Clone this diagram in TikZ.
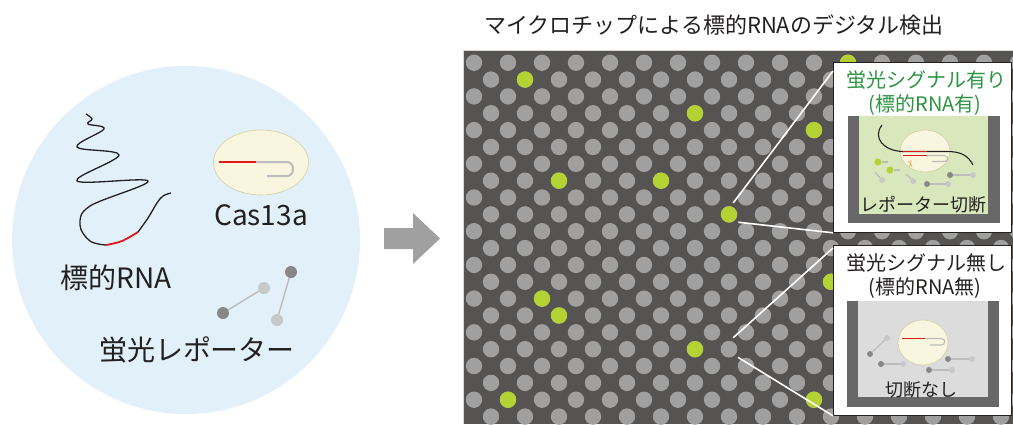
\documentclass[tikz,border=0pt]{standalone}
\usepackage{fontspec}
\setmainfont{Noto Sans CJK JP}
\newfontfamily\symfont{DejaVu Sans}
\definecolor{PoolBlue}{RGB}{226,240,250}
\definecolor{CasCream}{RGB}{248,246,222}
\definecolor{CasEdge}{RGB}{212,206,160}
\definecolor{ChipGray}{RGB}{85,84,82}
\definecolor{PitGray}{RGB}{160,160,160}
\definecolor{SignalGreen}{RGB}{180,210,52}
\definecolor{TitleGreen}{RGB}{44,148,66}
\definecolor{WallGray}{RGB}{104,104,104}
\definecolor{LitWell}{RGB}{217,231,188}
\definecolor{DimWell}{RGB}{220,220,220}
\definecolor{BeadDark}{RGB}{135,135,135}
\definecolor{BeadLight}{RGB}{200,200,200}
\definecolor{LinkGray}{RGB}{188,188,188}
\definecolor{CutOrange}{RGB}{228,150,40}
\definecolor{RnaRed}{RGB}{222,24,24}
\definecolor{ArrowGray}{RGB}{160,160,160}
\definecolor{Ink}{RGB}{35,32,32}
\usetikzlibrary{shapes.geometric, positioning}

\begin{document}
\begin{tikzpicture}[
            x=1pt, y=-1pt,
            label/.style={text=Ink, inner sep=0pt, font=\fontsize{28}{30}\selectfont},
            calltext/.style={text=Ink, inner sep=0pt, font=\fontsize{20}{22}\selectfont},
            welltext/.style={text=Ink, inner sep=0pt, font=\fontsize{18}{20}\selectfont},
            pit/.style={circle, fill=PitGray, minimum size=16.4pt, inner sep=0pt},
            spot/.style={pit, outer sep=4pt},
            casbody/.style={ellipse, draw=CasEdge, fill=CasCream, line width=0.6pt, inner sep=0pt},
            strand/.style={Ink, line width=1.3pt},
            target/.style={RnaRed, line width=1.8pt},
            hairpin/.style={LinkGray, line width=1.6pt},
            bead/.style={circle, minimum size=12pt, inner sep=0pt},
            minibead/.style={circle, minimum size=6pt, inner sep=0pt},
            link/.style={LinkGray, line width=1.2pt},
            callout/.style={rectangle, draw=Ink, fill=white, line width=0.8pt,
                            anchor=north west, minimum width=178pt, minimum height=170pt},
            callline/.style={white, line width=1.6pt}
        ]
            \path[fill=white] (0,0) rectangle (1013,424);
            \useasboundingbox (0,0) rectangle (1013,424);

            % sample side
            \node[circle, fill=PoolBlue, minimum size=348pt, inner sep=0pt] (pool) at (186,240) {};

            \draw[strand] plot[smooth, tension=0.6] coordinates {(86,114) (92,119) (88,124) (104,129)
                (77,147) (119,155) (77,181) (148,181) (90,206) (80,225) (90,241) (106,245)};
            \draw[target] plot[smooth, tension=0.6] coordinates {(106,245) (122,241) (138,232)};
            \draw[strand] plot[smooth, tension=0.6] coordinates {(138,232) (148,218) (157,203) (163,196) (171,193)};
            \node[label] (rna) at (116,278) {標的RNA};

            \node[casbody, minimum width=95pt, minimum height=65pt] (cas) at (261,162.5) {};
            \draw[target, line width=2pt] (219,162) -- (256,162);
            \draw[hairpin, line width=2pt] (256,162) -- (287,162) .. controls (295,162) and (295,176) .. (287,176) -- (267,176);
            \node[label] (caslabel) at (261,215) {Cas13a};

            \node[bead, fill=BeadDark] (repa) at (223,313) {};
            \node[bead, fill=BeadLight] (repb) at (264,288) {};
            \node[bead, fill=BeadDark] (repc) at (291,272) {};
            \node[bead, fill=BeadLight] (repd) at (277,320) {};
            \draw[link, line width=1.4pt] (repa) -- (repb);
            \draw[link, line width=1.4pt] (repc) -- (repd);
            \node[label] (reporter) at (197,350) {蛍光レポーター};

            \fill[ArrowGray] (384,228) -- (413,228) -- (413,213) -- (440,238.5)
                -- (413,264) -- (413,249) -- (384,249) -- cycle;

            % chip
            \node[text=Ink, inner sep=0pt, font=\fontsize{22}{24}\selectfont] (title) at (714,25)
                {マイクロチップによる標的RNAのデジタル検出};
            \fill[ChipGray] (463,50) rectangle (1013,424);
            \draw[black!15, line width=0.8pt] (463,424) -- (463,50) -- (1013,50);
            \begin{scope}
                \clip (463.5,50.5) rectangle (1013,424);
                \foreach \r in {0,...,21}
                    \foreach \c in {0,...,16}
                        \fill[PitGray] ({474+34*\c+17*mod(\r,2)}, {62.7+16.85*\r}) circle (8.2);
                \foreach \r/\c in {1/1, 0/11, 3/6, 4/10, 7/2, 7/5, 13/10, 14/2, 15/2, 17/6, 20/1, 20/10}
                    \fill[SignalGreen] ({474+34*\c+17*mod(\r,2)}, {62.7+16.85*\r}) circle (8.2);
            \end{scope}
            \node[spot, fill=SignalGreen] (hita) at (729,214.4) {};
            \node[spot] (hitb) at (729,349.2) {};

            \node[callout] (calla) at (833,62) {};
            \node[callout] (callb) at (833,245) {};
            \draw[callline] (hita.70) -- ([yshift=-9pt]calla.north west);
            \draw[callline] (hita.-40) -- (calla.south west);
            \draw[callline] (hitb.70) -- ([yshift=-3pt]callb.north west);
            \draw[callline] (hitb.-42) -- (callb.south west);

            % well with target
            \node[calltext, text=TitleGreen] (yesa) at (926,80) {蛍光シグナル有り};
            \node[calltext, text=TitleGreen] (yesb) at (925,105) {(標的RNA有)};
            \fill[WallGray] (848,116) rectangle (1000,223);
            \fill[LitWell] (859,116) rectangle (988,214);
            \node[casbody, minimum width=50pt, minimum height=42pt] (casa) at (925,151) {};
            \draw[strand, line width=1.1pt] (882,125) .. controls (872,138) and (884,151) .. (903,151.5)
                -- (947,151.5) .. controls (960,151.5) and (968,155) .. (973,165);
            \draw[target, line width=1.6pt] (903,151.5) -- (927,151.5);
            \draw[target, line width=1.6pt] (903,155.5) -- (927,155.5);
            \draw[hairpin, line width=1.1pt] (927,155.5) -- (944,155.5) .. controls (949,155.5) and (949,161.5) .. (944,161.5) -- (932,161.5);
            \node[text=CutOrange, inner sep=0pt, rotate=-80, font=\symfont\fontsize{9}{9}\selectfont] (cut) at (910,165) {✂};
            \node[minibead, fill=SignalGreen, minimum size=7pt] (ga) at (878,162) {};
            \node[minibead, fill=SignalGreen, minimum size=7pt] (gb) at (890,170) {};
            \node[minibead, fill=BeadLight] (la) at (882,180) {};
            \node[minibead, fill=BeadLight] (lb) at (913,181) {};
            \node[minibead, fill=BeadDark] (da) at (950,175) {};
            \node[minibead, fill=BeadLight] (lc) at (973,175) {};
            \node[minibead, fill=BeadDark] (db) at (927,184) {};
            \node[minibead, fill=BeadLight] (ld) at (948,184) {};
            \draw[link] (ga) -- +(10,0);
            \draw[link] (gb) -- +(10,0);
            \draw[link] (la) -- +(-7,-8);
            \draw[link] (lb) -- +(-7,-7);
            \draw[link] (da) -- (lc);
            \draw[link] (db) -- (ld);
            \node[welltext] (cuta) at (923,205) {レポーター切断};

            % well without target
            \node[calltext] (noa) at (926,263) {蛍光シグナル無し};
            \node[calltext] (nob) at (925,288) {(標的RNA無)};
            \fill[WallGray] (847,301) rectangle (999,407);
            \fill[DimWell] (858,301) rectangle (988,397);
            \node[casbody, minimum width=50pt, minimum height=45pt] (casb) at (923,342.5) {};
            \draw[target, line width=1.6pt] (902,338.5) -- (925,338.5);
            \draw[hairpin, line width=1.1pt] (925,338.5) -- (941,338.5) .. controls (946,338.5) and (946,345) .. (941,345) -- (930,345);
            \node[minibead, fill=BeadLight] (le) at (887,338) {};
            \node[minibead, fill=BeadDark] (dc) at (870,354) {};
            \node[minibead, fill=BeadDark] (dd) at (881,364) {};
            \node[minibead, fill=BeadLight] (lf) at (903,364) {};
            \node[minibead, fill=BeadDark] (de) at (948,359) {};
            \node[minibead, fill=BeadLight] (lg) at (972,359) {};
            \node[minibead, fill=BeadDark] (df) at (929,370) {};
            \node[minibead, fill=BeadLight] (lh) at (952,370) {};
            \draw[link] (le) -- (dc);
            \draw[link] (dd) -- (lf);
            \draw[link] (de) -- (lg);
            \draw[link] (df) -- (lh);
            \node[welltext] (cutb) at (921,390) {切断なし};
        \end{tikzpicture}
\end{document}
